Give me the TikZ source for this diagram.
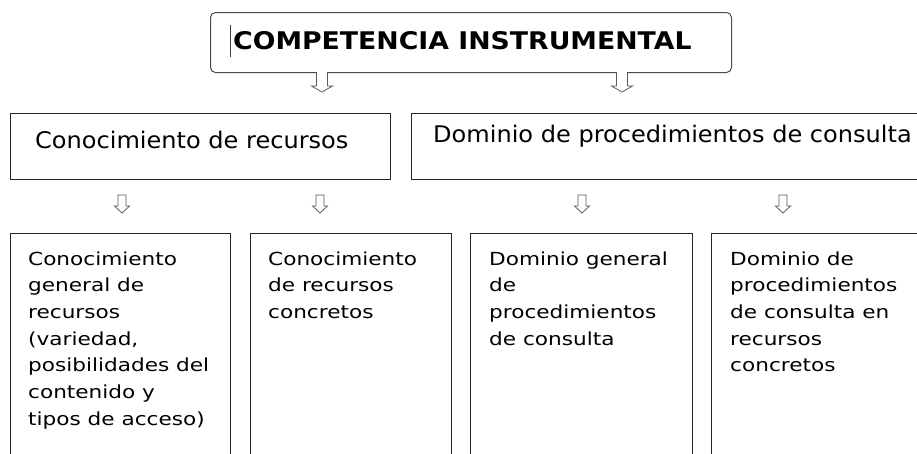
\documentclass[tikz,border=0pt]{standalone}
\usepackage{fontspec}
\setmainfont{DejaVu Sans}
\newfontfamily\lowfont{DejaVu Sans}[FakeStretch=1.2]
\newfontfamily\midfont{DejaVu Sans}[FakeStretch=1.05]
\newfontfamily\titlefont{DejaVu Sans}[FakeStretch=1.1]
\newcommand{\hollowdown}[7]{% name, x, ytop, ybot, shaftw, headw, headh
  \coordinate (#1) at (#2,#4);
  \draw[harrow] ({#2-#5/2},#3) -- ({#2-#5/2},{#4-#7}) -- ({#2-#6/2},{#4-#7}) -- (#1)
    -- ({#2+#6/2},{#4-#7}) -- ({#2+#5/2},{#4-#7}) -- ({#2+#5/2},#3) -- cycle;}
\newcommand{\openarrow}[7]{% name, x, ytop, ybot, shaftw, headw, headh
  \coordinate (#1) at (#2,#4);
  \draw[harrow] ({#2-#5/2},#3) -- ({#2-#5/2},{#4-#7}) -- ({#2-#6/2},{#4-#7}) -- (#1)
    -- ({#2+#6/2},{#4-#7}) -- ({#2+#5/2},{#4-#7}) -- ({#2+#5/2},#3);}
\begin{document}
\begin{tikzpicture}[x=1pt,y=-1pt,
  box/.style={draw=black!85, line width=1pt, inner sep=0pt, anchor=north west},
  harrow/.style={draw=black!65, fill=white, line width=0.8pt, line join=miter},
  midtxt/.style={anchor=base west, inner sep=0pt, font=\midfont\fontsize{22.9}{27}\selectfont},
  lowtxt/.style={anchor=base west, inner sep=0pt},
]
\useasboundingbox (0,0) rectangle (917,453);
\clip (0,0) rectangle (917,453);
\fill[white] (0,0) rectangle (917,453);

% top box
\node[box, draw=black!70, rounded corners=5pt, minimum width=521pt, minimum height=60pt] (top) at (210,12) {};
\node[anchor=base west, inner sep=0pt, font=\titlefont\bfseries\fontsize{24.3}{28}\selectfont] (title) at (233,49) {COMPETENCIA INSTRUMENTAL};
\draw[black!75, line width=0.9pt] (230,25) -- (230,57);

% level 2 boxes
\node[box, minimum width=380pt, minimum height=66pt] (conoc) at (10,113) {};
\node[box, minimum width=520pt, minimum height=66pt] (domin) at (411,113) {};
\node[midtxt] (conoct) at (35,148) {Conocimiento de recursos};
\node[midtxt] (domint) at (433,142) {Dominio de procedimientos de consulta};

% arrows from top box
\openarrow{ta1}{322}{72}{92}{11}{21}{6}
\openarrow{ta2}{622}{72}{92}{11}{21}{6}

% small arrows
\hollowdown{la1}{122}{195}{213}{8}{15}{7}
\hollowdown{la2}{320}{195}{213}{8}{15}{7}
\hollowdown{la3}{582}{195}{213}{8}{15}{7}
\hollowdown{la4}{783}{195}{213}{8}{15}{7}

% lower boxes
\node[box, minimum width=220pt, minimum height=260pt] (b1) at (10,233) {};
\node[box, minimum width=201pt, minimum height=260pt] (b2) at (250,233) {};
\node[box, minimum width=222pt, minimum height=260pt] (b3) at (470,233) {};
\node[box, minimum width=260pt, minimum height=260pt] (b4) at (711,233) {};

\node[lowtxt] (t1) at (28,265) {\parbox[t]{200pt}{\raggedright\lowfont\fontsize{18}{26.7}\selectfont Conocimiento\\general de\\recursos\\(variedad,\\posibilidades del\\contenido y\\tipos de acceso)}};
\node[lowtxt] (t2) at (268,265) {\parbox[t]{200pt}{\raggedright\lowfont\fontsize{18}{26.7}\selectfont Conocimiento\\de recursos\\concretos}};
\node[lowtxt] (t3) at (489,265) {\parbox[t]{200pt}{\raggedright\lowfont\fontsize{18}{26.7}\selectfont Dominio general\\de\\procedimientos\\de consulta}};
\node[lowtxt] (t4) at (730,265) {\parbox[t]{200pt}{\raggedright\lowfont\fontsize{18}{26.7}\selectfont Dominio de\\procedimientos\\de consulta en\\recursos\\concretos}};
\end{tikzpicture}
\end{document}
